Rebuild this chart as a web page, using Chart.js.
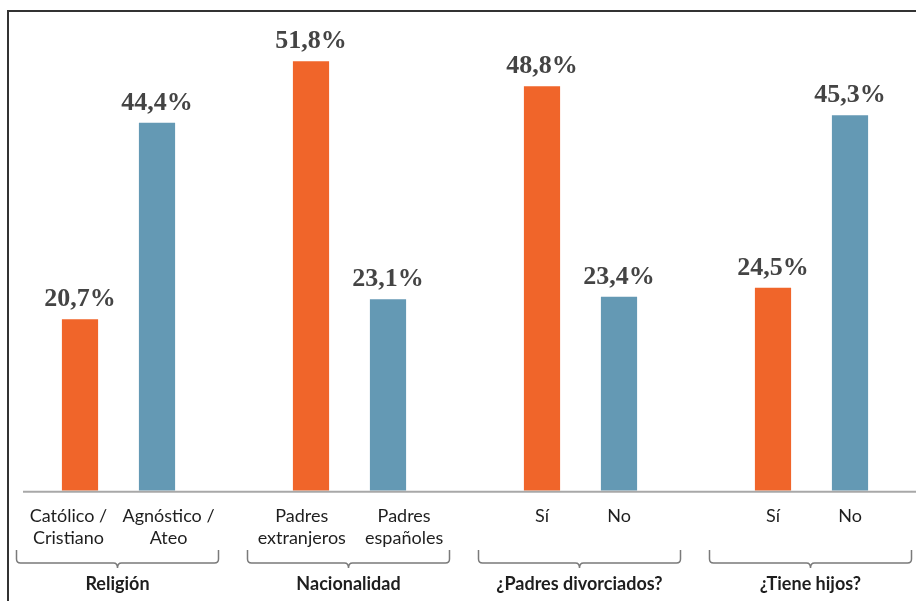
<!DOCTYPE html>
<html>
<head>
<meta charset="utf-8">
<style>
  html, body { margin: 0; padding: 0; background: #fff; }
  #wrap { width: 916px; height: 601px; position: relative; }
</style>
<script src="https://cdn.jsdelivr.net/npm/chart.js@4/dist/chart.umd.min.js"></script>
</head>
<body>
<div id="wrap"><canvas id="chart"></canvas></div>
<script>
"use strict";

// ---------------- data ----------------
// empty slots ("") keep the gap between the four groups
const labels = [
  ["Católico /", "Cristiano"], ["Agnóstico /", "Ateo"], "",
  ["Padres", "extranjeros"], ["Padres", "españoles"], "",
  "Sí", "No", "",
  "Sí", "No",
];
const values = [20.7, 44.4, null, 51.8, 23.1, null, 48.8, 23.4, null, 24.5, 45.3];
const groups = ["Religión", "Nacionalidad", "¿Padres divorciados?", "¿Tiene hijos?"];
const groupSlots = [[0, 1], [3, 4], [6, 7], [9, 10]];
// the printed labels sit a little off their bar centre (pushed outward, in spaces)
const labelNudge = [-5, 5, 0, -4, 7, 0, 0, 0, 0, 0, 0];

const ORANGE = "#F0652A", BLUE = "#6499B4";
const barColors = values.map((v, i) => (i % 3 === 0 ? ORANGE : BLUE));
const fmt = (v) => v.toFixed(1).replace(".", ",") + "%";

const nudge = (lbl, n) => {
  const pad = " ".repeat(Math.abs(n));
  const f = (s) => (n < 0 ? s + pad : pad + s);
  return Array.isArray(lbl) ? lbl.map(f) : (lbl ? f(lbl) : lbl);
};
const tickLabels = labels.map((l, i) => nudge(l, labelNudge[i]));

// ---------------- extras: frame, axis line, value labels, brackets ----------------
const decor = {
  id: "decor",
  beforeDraw(chart) {
    const ctx = chart.ctx;
    ctx.save();
    ctx.strokeStyle = "#333";
    ctx.lineWidth = 2;
    ctx.beginPath();
    ctx.moveTo(8, 601); ctx.lineTo(8, 11); ctx.lineTo(916, 11);
    ctx.stroke();
    ctx.restore();
  },
  afterDatasetsDraw(chart) {
    const ctx = chart.ctx, x = chart.scales.x, base = chart.chartArea.bottom;
    ctx.save();
    // axis line
    ctx.strokeStyle = "#a8a8a8";
    ctx.lineWidth = 2;
    ctx.beginPath();
    ctx.moveTo(23, base + 1); ctx.lineTo(916, base + 1);
    ctx.stroke();

    // value labels
    ctx.fillStyle = "#444";
    ctx.font = "bold 26px 'Liberation Serif', serif";
    ctx.textAlign = "center";
    ctx.textBaseline = "alphabetic";
    chart.getDatasetMeta(0).data.forEach((bar, i) => {
      if (values[i] == null) return;
      ctx.fillText(fmt(values[i]), bar.x, bar.y - 13);
    });

    // group brackets
    const top = 550, line = 563, tip = 568, r = 4, half = 101;
    ctx.strokeStyle = "#7a7a7a";
    ctx.lineWidth = 1.5;
    groupSlots.forEach(([a, b], g) => {
      const mid = (x.getPixelForValue(a) + x.getPixelForValue(b)) / 2 - 1;
      const l = mid - half, rr = mid + half;
      ctx.beginPath();
      ctx.moveTo(l, top);
      ctx.lineTo(l, line - r);
      ctx.quadraticCurveTo(l, line, l + r, line);
      ctx.lineTo(mid - r, line);
      ctx.quadraticCurveTo(mid, line, mid, tip);
      ctx.quadraticCurveTo(mid, line, mid + r, line);
      ctx.lineTo(rr - r, line);
      ctx.quadraticCurveTo(rr, line, rr, line - r);
      ctx.lineTo(rr, top);
      ctx.stroke();

      ctx.fillStyle = "#1e1e1e";
      ctx.font = "bold 18px Lato, sans-serif";
      ctx.textBaseline = "middle";
      ctx.fillText(groups[g], mid, 584);
    });
    ctx.restore();
  },
};

new Chart(document.getElementById("chart"), {
  type: "bar",
  data: {
    labels: tickLabels,
    datasets: [{
      data: values,
      backgroundColor: barColors,
      borderWidth: 0,
      barPercentage: 0.47,
      categoryPercentage: 1,
    }],
  },
  options: {
    responsive: true,
    maintainAspectRatio: false,
    animation: false,
    layout: { padding: { top: 0, left: 41.5, right: 27.5, bottom: 37 } },
    plugins: { legend: { display: false }, tooltip: { enabled: false } },
    scales: {
      x: {
        grid: { display: false, drawTicks: false },
        border: { display: false },
        ticks: {
          color: "#1e1e1e",
          font: { family: "Lato, sans-serif", size: 18 },
          padding: 15,
          maxRotation: 0,
          autoSkip: false,
        },
      },
      y: { display: false, min: 0, max: 59.2 },
    },
  },
  plugins: [decor],
});
</script>
</body>
</html>
